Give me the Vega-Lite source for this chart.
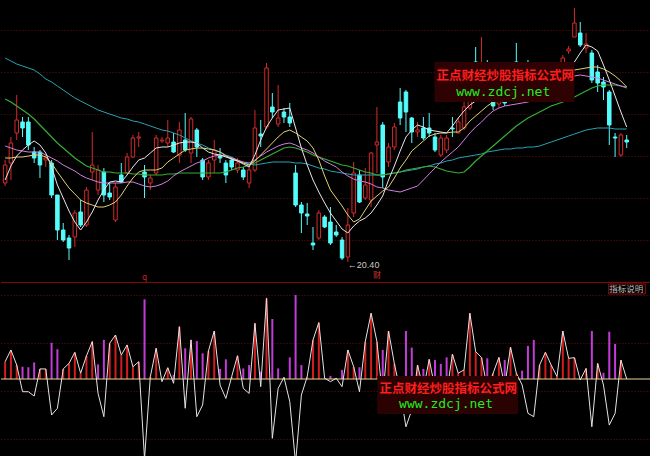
{
  "$schema": "https://vega.github.io/schema/vega-lite/v6.json",
  "background": "#000000",
  "padding": 0,
  "spacing": 0,
  "resolve": {"scale": {"color": "independent", "fill": "independent", "stroke": "independent", "x": "independent", "y": "independent"}},
  "config": {
    "view": {"stroke": null},
    "axis": {"domain": false, "ticks": false, "labels": false, "title": null, "grid": true, "gridColor": "#6a0c0c", "gridDash": [1, 2], "gridWidth": 1}
  },
  "datasets": {
    "k": [
      {"i":-1,"d":"u","o":24.35,"h":25.5,"l":24.2,"c":25.25,"m5":24.5,"m10":25.6,"m20":26.2,"m30":28.55,"m60":30.6},
      {"i":0,"d":"u","o":25.35,"h":26.65,"l":24.5,"c":26.35,"m5":25.2,"m10":25.6,"m20":26.1,"m30":28.4,"m60":30.45},
      {"i":1,"d":"u","o":26.85,"h":28.75,"l":26.5,"c":27.5,"m5":25.7,"m10":25.65,"m20":26.0,"m30":28.2,"m60":30.3},
      {"i":2,"d":"d","o":27.4,"h":27.65,"l":26.65,"c":27.1,"m5":26.0,"m10":25.65,"m20":25.95,"m30":28.0,"m60":30.2},
      {"i":3,"d":"d","o":27.4,"h":27.65,"l":26.0,"c":26.25,"m5":26.25,"m10":25.7,"m20":25.9,"m30":27.8,"m60":30.1},
      {"i":4,"d":"d","o":25.9,"h":26.15,"l":25.35,"c":25.6,"m5":26.45,"m10":25.75,"m20":25.9,"m30":27.55,"m60":30.0},
      {"i":5,"d":"d","o":25.9,"h":26.0,"l":24.6,"c":25.25,"m5":26.25,"m10":25.75,"m20":25.9,"m30":27.25,"m60":29.8},
      {"i":6,"d":"u","o":25.5,"h":25.75,"l":25.15,"c":25.6,"m5":25.85,"m10":25.65,"m20":25.75,"m30":26.95,"m60":29.55},
      {"i":7,"d":"d","o":25.35,"h":25.5,"l":23.6,"c":23.75,"m5":25.15,"m10":25.35,"m20":25.6,"m30":26.65,"m60":29.4},
      {"i":8,"d":"d","o":23.75,"h":23.75,"l":21.5,"c":22.0,"m5":24.25,"m10":24.9,"m20":25.45,"m30":26.35,"m60":29.2},
      {"i":9,"d":"d","o":22.0,"h":22.35,"l":21.4,"c":21.5,"m5":23.6,"m10":24.5,"m20":25.25,"m30":26.1,"m60":29.0},
      {"i":10,"d":"d","o":21.6,"h":21.75,"l":20.5,"c":21.1,"m5":22.95,"m10":24.1,"m20":25.1,"m30":25.85,"m60":28.8},
      {"i":11,"d":"u","o":21.65,"h":23.0,"l":21.15,"c":22.85,"m5":22.4,"m10":23.8,"m20":24.95,"m30":25.6,"m60":28.6},
      {"i":12,"d":"d","o":22.9,"h":23.5,"l":22.15,"c":22.25,"m5":22.0,"m10":23.5,"m20":24.75,"m30":25.4,"m60":28.45},
      {"i":13,"d":"u","o":22.25,"h":24.15,"l":22.15,"c":24.0,"m5":22.4,"m10":23.35,"m20":24.6,"m30":25.2,"m60":28.3},
      {"i":14,"d":"u","o":24.9,"h":26.9,"l":24.5,"c":25.25,"m5":22.9,"m10":23.25,"m20":24.5,"m30":25.1,"m60":28.15},
      {"i":15,"d":"u","o":24.0,"h":25.25,"l":23.75,"c":25.0,"m5":23.5,"m10":23.15,"m20":24.4,"m30":25.0,"m60":28.0},
      {"i":16,"d":"d","o":24.9,"h":25.1,"l":23.4,"c":23.75,"m5":24.0,"m10":23.15,"m20":24.35,"m30":24.9,"m60":27.9},
      {"i":17,"d":"d","o":23.85,"h":24.35,"l":23.5,"c":23.65,"m5":24.4,"m10":23.25,"m20":24.35,"m30":24.9,"m60":27.8},
      {"i":18,"d":"u","o":22.5,"h":24.35,"l":22.4,"c":24.15,"m5":24.45,"m10":23.4,"m20":24.35,"m30":24.85,"m60":27.7},
      {"i":19,"d":"d","o":24.75,"h":25.35,"l":24.35,"c":24.4,"m5":24.4,"m10":23.75,"m20":24.35,"m30":24.85,"m60":27.6},
      {"i":20,"d":"u","o":24.85,"h":25.85,"l":24.75,"c":25.65,"m5":24.75,"m10":24.2,"m20":24.4,"m30":24.85,"m60":27.55},
      {"i":21,"d":"u","o":25.65,"h":26.75,"l":25.6,"c":26.6,"m5":25.15,"m10":24.6,"m20":24.4,"m30":24.8,"m60":27.45},
      {"i":22,"d":"u","o":26.6,"h":26.9,"l":26.15,"c":26.65,"m5":25.5,"m10":24.9,"m20":24.3,"m30":24.8,"m60":27.4},
      {"i":23,"d":"d","o":24.9,"h":25.25,"l":23.6,"c":24.65,"m5":25.6,"m10":25.0,"m20":24.2,"m30":24.75,"m60":27.3},
      {"i":24,"d":"u","o":24.35,"h":24.75,"l":24.0,"c":24.6,"m5":25.85,"m10":25.0,"m20":24.15,"m30":24.75,"m60":27.2},
      {"i":25,"d":"u","o":24.85,"h":26.75,"l":24.75,"c":26.6,"m5":26.1,"m10":25.0,"m20":24.2,"m30":24.75,"m60":27.1},
      {"i":26,"d":"u","o":26.45,"h":26.65,"l":26.35,"c":26.5,"m5":26.15,"m10":25.1,"m20":24.3,"m30":24.75,"m60":27.0},
      {"i":27,"d":"u","o":26.35,"h":27.5,"l":26.15,"c":26.6,"m5":26.15,"m10":25.4,"m20":24.45,"m30":24.8,"m60":26.95},
      {"i":28,"d":"d","o":26.4,"h":26.85,"l":25.85,"c":25.9,"m5":26.25,"m10":25.6,"m20":24.7,"m30":24.8,"m60":26.85},
      {"i":29,"d":"u","o":25.75,"h":27.4,"l":25.35,"c":27.0,"m5":26.35,"m10":25.8,"m20":24.9,"m30":24.85,"m60":26.75},
      {"i":30,"d":"d","o":26.5,"h":27.85,"l":25.9,"c":26.0,"m5":26.4,"m10":26.0,"m20":25.05,"m30":24.85,"m60":26.6},
      {"i":31,"d":"u","o":25.85,"h":27.65,"l":25.35,"c":27.55,"m5":26.4,"m10":26.05,"m20":25.2,"m30":24.85,"m60":26.45},
      {"i":32,"d":"d","o":27.0,"h":27.1,"l":25.65,"c":26.15,"m5":26.35,"m10":26.1,"m20":25.35,"m30":24.85,"m60":26.35},
      {"i":33,"d":"d","o":25.5,"h":25.6,"l":24.5,"c":24.65,"m5":26.1,"m10":26.1,"m20":25.45,"m30":24.85,"m60":26.25},
      {"i":34,"d":"u","o":24.65,"h":25.5,"l":24.5,"c":25.35,"m5":25.9,"m10":26.05,"m20":25.6,"m30":24.85,"m60":26.1},
      {"i":35,"d":"u","o":25.5,"h":26.5,"l":24.85,"c":26.0,"m5":25.8,"m10":26.0,"m20":25.7,"m30":24.85,"m60":26.0},
      {"i":36,"d":"d","o":25.7,"h":26.1,"l":25.35,"c":25.6,"m5":25.75,"m10":25.9,"m20":25.75,"m30":24.85,"m60":25.9},
      {"i":37,"d":"d","o":25.35,"h":25.5,"l":24.35,"c":24.75,"m5":25.65,"m10":25.7,"m20":25.7,"m30":24.9,"m60":25.75},
      {"i":38,"d":"d","o":25.5,"h":25.65,"l":25.0,"c":25.15,"m5":25.55,"m10":25.55,"m20":25.6,"m30":25.0,"m60":25.65},
      {"i":39,"d":"u","o":25.0,"h":25.6,"l":24.85,"c":25.35,"m5":25.45,"m10":25.45,"m20":25.5,"m30":25.1,"m60":25.5},
      {"i":40,"d":"d","o":25.0,"h":25.15,"l":24.5,"c":24.65,"m5":25.3,"m10":25.35,"m20":25.4,"m30":25.15,"m60":25.35},
      {"i":41,"d":"u","o":24.35,"h":25.15,"l":24.1,"c":25.0,"m5":25.15,"m10":25.25,"m20":25.35,"m30":25.25,"m60":25.3},
      {"i":42,"d":"u","o":25.0,"h":28.0,"l":24.9,"c":27.1,"m5":25.75,"m10":25.45,"m20":25.5,"m30":25.35,"m60":25.25},
      {"i":43,"d":"d","o":26.8,"h":27.5,"l":26.15,"c":26.7,"m5":26.5,"m10":25.75,"m20":25.7,"m30":25.5,"m60":25.3},
      {"i":44,"d":"u","o":27.15,"h":30.35,"l":27.05,"c":30.1,"m5":27.15,"m10":26.05,"m20":25.9,"m30":25.65,"m60":25.35},
      {"i":45,"d":"d","o":28.15,"h":28.85,"l":27.6,"c":27.9,"m5":27.6,"m10":26.35,"m20":26.05,"m30":25.8,"m60":25.4},
      {"i":46,"d":"u","o":27.3,"h":29.25,"l":27.15,"c":27.6,"m5":28.0,"m10":26.65,"m20":26.2,"m30":25.95,"m60":25.4},
      {"i":47,"d":"d","o":27.9,"h":28.1,"l":27.35,"c":27.65,"m5":28.05,"m10":26.9,"m20":26.3,"m30":26.1,"m60":25.4},
      {"i":48,"d":"d","o":27.65,"h":28.35,"l":27.15,"c":27.35,"m5":28.1,"m10":27.0,"m20":26.35,"m30":26.15,"m60":25.4},
      {"i":49,"d":"d","o":24.85,"h":25.25,"l":23.15,"c":23.25,"m5":27.1,"m10":26.85,"m20":26.25,"m30":26.1,"m60":25.35},
      {"i":50,"d":"d","o":23.25,"h":23.4,"l":21.85,"c":22.85,"m5":26.1,"m10":26.65,"m20":26.1,"m30":26.0,"m60":25.35},
      {"i":51,"d":"d","o":22.8,"h":23.35,"l":22.25,"c":22.7,"m5":25.25,"m10":26.45,"m20":26.0,"m30":25.9,"m60":25.3},
      {"i":52,"d":"d","o":21.35,"h":22.15,"l":21.0,"c":21.25,"m5":24.5,"m10":26.1,"m20":25.85,"m30":25.75,"m60":25.2},
      {"i":53,"d":"u","o":21.6,"h":23.0,"l":21.5,"c":22.85,"m5":23.9,"m10":25.5,"m20":25.65,"m30":25.65,"m60":25.1},
      {"i":54,"d":"d","o":22.65,"h":22.75,"l":22.1,"c":22.15,"m5":23.35,"m10":24.7,"m20":25.45,"m30":25.55,"m60":25.05},
      {"i":55,"d":"d","o":22.4,"h":23.15,"l":21.25,"c":21.35,"m5":22.85,"m10":24.0,"m20":25.3,"m30":25.45,"m60":24.95},
      {"i":56,"d":"d","o":21.9,"h":22.25,"l":21.65,"c":21.75,"m5":22.45,"m10":23.6,"m20":25.15,"m30":25.35,"m60":24.9},
      {"i":57,"d":"d","o":21.5,"h":21.65,"l":20.5,"c":20.6,"m5":22.05,"m10":23.2,"m20":24.9,"m30":25.25,"m60":24.85},
      {"i":58,"d":"u","o":20.65,"h":23.1,"l":20.4,"c":22.25,"m5":21.85,"m10":22.75,"m20":24.7,"m30":25.2,"m60":24.8},
      {"i":59,"d":"u","o":22.85,"h":25.4,"l":22.65,"c":24.85,"m5":22.2,"m10":22.4,"m20":24.55,"m30":25.1,"m60":24.75},
      {"i":60,"d":"d","o":24.75,"h":25.0,"l":23.35,"c":23.4,"m5":22.45,"m10":22.55,"m20":24.45,"m30":25.0,"m60":24.75},
      {"i":61,"d":"u","o":23.6,"h":25.1,"l":23.5,"c":24.25,"m5":22.6,"m10":23.0,"m20":24.4,"m30":24.9,"m60":24.75},
      {"i":62,"d":"u","o":23.5,"h":25.9,"l":23.15,"c":25.85,"m5":22.85,"m10":23.45,"m20":24.3,"m30":24.85,"m60":24.75},
      {"i":63,"d":"u","o":26.25,"h":28.15,"l":24.85,"c":26.4,"m5":23.25,"m10":23.7,"m20":24.15,"m30":24.75,"m60":24.75},
      {"i":64,"d":"d","o":27.25,"h":27.4,"l":24.1,"c":24.65,"m5":23.7,"m10":23.95,"m20":24.1,"m30":24.75,"m60":24.75},
      {"i":65,"d":"u","o":25.4,"h":26.35,"l":25.15,"c":26.15,"m5":24.5,"m10":24.15,"m20":24.0,"m30":24.8,"m60":24.8},
      {"i":66,"d":"u","o":26.15,"h":27.35,"l":26.0,"c":27.15,"m5":25.2,"m10":24.6,"m20":23.95,"m30":24.85,"m60":24.85},
      {"i":67,"d":"d","o":28.4,"h":29.1,"l":27.25,"c":27.6,"m5":25.95,"m10":25.1,"m20":23.9,"m30":24.9,"m60":24.9},
      {"i":68,"d":"d","o":28.9,"h":29.0,"l":26.9,"c":27.9,"m5":26.65,"m10":25.5,"m20":24.0,"m30":25.0,"m60":24.95},
      {"i":69,"d":"d","o":27.6,"h":27.65,"l":26.35,"c":26.9,"m5":27.0,"m10":25.95,"m20":24.1,"m30":25.05,"m60":25.0},
      {"i":70,"d":"u","o":26.9,"h":27.4,"l":26.65,"c":27.0,"m5":27.25,"m10":26.2,"m20":24.2,"m30":25.1,"m60":25.05},
      {"i":71,"d":"d","o":27.1,"h":27.65,"l":26.5,"c":26.6,"m5":27.15,"m10":26.45,"m20":24.5,"m30":25.15,"m60":25.15},
      {"i":72,"d":"d","o":27.1,"h":27.85,"l":26.65,"c":26.85,"m5":27.0,"m10":26.7,"m20":24.8,"m30":25.2,"m60":25.2},
      {"i":73,"d":"d","o":26.65,"h":26.85,"l":25.9,"c":26.0,"m5":26.95,"m10":26.8,"m20":25.1,"m30":25.15,"m60":25.3},
      {"i":74,"d":"u","o":25.75,"h":26.75,"l":25.65,"c":26.6,"m5":26.9,"m10":26.85,"m20":25.4,"m30":25.05,"m60":25.35},
      {"i":75,"d":"u","o":26.0,"h":26.75,"l":25.85,"c":26.6,"m5":26.85,"m10":26.85,"m20":25.65,"m30":24.95,"m60":25.45},
      {"i":76,"d":"d","o":27.1,"h":27.65,"l":26.65,"c":27.05,"m5":27.2,"m10":26.9,"m20":25.9,"m30":24.9,"m60":25.5},
      {"i":77,"d":"u","o":26.85,"h":27.6,"l":26.85,"c":27.4,"m5":27.6,"m10":26.9,"m20":26.15,"m30":24.85,"m60":25.6},
      {"i":78,"d":"u","o":27.1,"h":28.65,"l":27.0,"c":28.15,"m5":27.95,"m10":27.1,"m20":26.5,"m30":24.9,"m60":25.65},
      {"i":79,"d":"u","o":28.1,"h":29.25,"l":28.0,"c":28.65,"m5":28.25,"m10":27.45,"m20":26.85,"m30":25.15,"m60":25.7},
      {"i":80,"d":"d","o":30.4,"h":31.15,"l":29.4,"c":29.6,"m5":28.45,"m10":27.7,"m20":27.15,"m30":25.45,"m60":25.75},
      {"i":81,"d":"u","o":29.5,"h":31.65,"l":29.3,"c":30.3,"m5":28.5,"m10":27.95,"m20":27.4,"m30":25.7,"m60":25.8},
      {"i":82,"d":"d","o":30.2,"h":30.5,"l":29.25,"c":29.5,"m5":28.6,"m10":28.2,"m20":27.7,"m30":25.95,"m60":25.9},
      {"i":83,"d":"d","o":29.5,"h":29.9,"l":28.0,"c":28.2,"m5":28.65,"m10":28.4,"m20":27.95,"m30":26.2,"m60":25.95},
      {"i":84,"d":"u","o":28.3,"h":29.25,"l":28.1,"c":29.1,"m5":28.9,"m10":28.55,"m20":28.1,"m30":26.45,"m60":26.0},
      {"i":85,"d":"d","o":29.1,"h":29.5,"l":28.2,"c":28.35,"m5":29.1,"m10":28.7,"m20":28.2,"m30":26.7,"m60":26.05},
      {"i":86,"d":"u","o":28.5,"h":29.75,"l":28.4,"c":29.5,"m5":29.25,"m10":28.8,"m20":28.25,"m30":26.95,"m60":26.05},
      {"i":87,"d":"d","o":30.4,"h":31.35,"l":29.3,"c":29.5,"m5":29.4,"m10":28.9,"m20":28.3,"m30":27.2,"m60":26.1},
      {"i":88,"d":"u","o":29.25,"h":30.25,"l":29.1,"c":30.0,"m5":29.5,"m10":29.0,"m20":28.35,"m30":27.4,"m60":26.1},
      {"i":89,"d":"d","o":30.25,"h":30.5,"l":29.4,"c":29.6,"m5":29.5,"m10":29.1,"m20":28.4,"m30":27.6,"m60":26.15},
      {"i":90,"d":"u","o":28.6,"h":29.6,"l":28.45,"c":29.4,"m5":29.4,"m10":29.2,"m20":28.5,"m30":27.75,"m60":26.15},
      {"i":91,"d":"u","o":28.75,"h":29.5,"l":28.6,"c":29.25,"m5":29.25,"m10":29.3,"m20":28.65,"m30":27.9,"m60":26.2},
      {"i":92,"d":"d","o":29.4,"h":29.6,"l":28.65,"c":28.75,"m5":29.3,"m10":29.4,"m20":28.8,"m30":28.05,"m60":26.3},
      {"i":93,"d":"u","o":28.65,"h":29.75,"l":28.55,"c":29.6,"m5":29.5,"m10":29.55,"m20":28.95,"m30":28.2,"m60":26.4},
      {"i":94,"d":"u","o":29.5,"h":30.3,"l":29.4,"c":30.1,"m5":29.75,"m10":29.7,"m20":29.15,"m30":28.3,"m60":26.5},
      {"i":95,"d":"u","o":30.0,"h":30.75,"l":29.75,"c":30.6,"m5":30.0,"m10":29.85,"m20":29.35,"m30":28.4,"m60":26.6},
      {"i":96,"d":"u","o":30.95,"h":31.2,"l":30.8,"c":31.05,"m5":30.2,"m10":29.95,"m20":29.55,"m30":28.5,"m60":26.7},
      {"i":97,"d":"u","o":31.65,"h":33.1,"l":31.65,"c":32.35,"m5":30.4,"m10":30.0,"m20":29.7,"m30":28.65,"m60":26.8},
      {"i":98,"d":"d","o":31.85,"h":32.4,"l":31.15,"c":31.25,"m5":30.85,"m10":30.05,"m20":29.75,"m30":28.8,"m60":26.9},
      {"i":99,"d":"u","o":31.1,"h":31.85,"l":30.85,"c":31.3,"m5":31.25,"m10":30.1,"m20":29.7,"m30":28.95,"m60":27.0},
      {"i":100,"d":"d","o":30.85,"h":31.0,"l":29.35,"c":29.5,"m5":31.15,"m10":30.15,"m20":29.65,"m30":29.1,"m60":27.05},
      {"i":101,"d":"d","o":29.9,"h":30.25,"l":28.9,"c":29.35,"m5":30.95,"m10":30.15,"m20":29.6,"m30":29.2,"m60":27.1},
      {"i":102,"d":"d","o":29.4,"h":29.65,"l":28.5,"c":29.15,"m5":30.25,"m10":30.05,"m20":29.5,"m30":29.25,"m60":27.1},
      {"i":103,"d":"d","o":28.9,"h":29.0,"l":26.25,"c":27.25,"m5":29.5,"m10":29.9,"m20":29.4,"m30":29.25,"m60":27.1},
      {"i":104,"d":"d","o":26.65,"h":26.85,"l":25.65,"c":26.6,"m5":28.7,"m10":29.7,"m20":29.3,"m30":29.25,"m60":27.05},
      {"i":105,"d":"u","o":25.75,"h":26.85,"l":25.65,"c":26.75,"m5":27.9,"m10":29.45,"m20":29.2,"m30":29.2,"m60":27.05},
      {"i":106,"d":"d","o":26.5,"h":26.75,"l":26.1,"c":26.4,"m5":27.15,"m10":29.15,"m20":29.1,"m30":29.15,"m60":27.05}
    ],
    "osc": [
      {"i":-1,"a":7.2,"b":7.2,"k":"r"},{"i":0,"a":12.1,"b":12.1,"k":"r"},{"i":1,"a":5.8,"b":5.8,"k":"r"},
      {"i":2,"a":-5.3,"b":5.1,"k":"m"},{"i":3,"a":-5.3,"b":4.9,"k":"m"},{"i":4,"a":-7.1,"b":6.9,"k":"m"},
      {"i":5,"a":4.2,"b":4.2,"k":"r"},{"i":6,"a":4.2,"b":4.2,"k":"r"},{"i":7,"a":-15.0,"b":15.1,"k":"m"},
      {"i":8,"a":-12.2,"b":12.4,"k":"m"},{"i":9,"a":4.2,"b":4.2,"k":"r"},{"i":10,"a":6.5,"b":6.5,"k":"r"},
      {"i":11,"a":11.1,"b":11.1,"k":"r"},{"i":12,"a":2.4,"b":2.4,"k":"r"},{"i":13,"a":9.6,"b":9.6,"k":"r"},
      {"i":14,"a":15.6,"b":15.6,"k":"r"},{"i":15,"a":-6.0,"b":6.1,"k":"m"},{"i":16,"a":-15.7,"b":16.3,"k":"m"},
      {"i":17,"a":14.9,"b":14.9,"k":"r"},{"i":18,"a":18.3,"b":18.3,"k":"r"},{"i":19,"a":10.0,"b":10.0,"k":"r"},
      {"i":20,"a":14.2,"b":14.2,"k":"r"},{"i":21,"a":5.1,"b":5.1,"k":"r"},{"i":22,"a":7.2,"b":7.2,"k":"r"},
      {"i":23,"a":-33.2,"b":33.2,"k":"m"},{"i":24,"a":1.0,"b":1.0,"k":"r"},{"i":25,"a":12.8,"b":12.8,"k":"r"},
      {"i":26,"a":-1.1,"b":0,"k":"m"},{"i":27,"a":4.7,"b":4.7,"k":"r"},{"i":28,"a":-1.8,"b":1.7,"k":"m"},
      {"i":29,"a":21.8,"b":21.8,"k":"r"},{"i":30,"a":-12.2,"b":12.8,"k":"m"},{"i":31,"a":16.3,"b":16.3,"k":"r"},
      {"i":32,"a":-15.7,"b":15.8,"k":"m"},{"i":33,"a":-10.8,"b":10.7,"k":"m"},{"i":34,"a":11.7,"b":11.7,"k":"r"},
      {"i":35,"a":20.0,"b":20.0,"k":"r"},{"i":36,"a":-2.5,"b":4.2,"k":"m"},{"i":37,"a":-8.1,"b":8.2,"k":"m"},
      {"i":38,"a":1.0,"b":1.0,"k":"r"},{"i":39,"a":9.7,"b":9.7,"k":"r"},{"i":40,"a":-3.9,"b":4.4,"k":"m"},
      {"i":41,"a":-6.0,"b":5.8,"k":"m"},{"i":42,"a":23.2,"b":23.2,"k":"r"},{"i":43,"a":-3.2,"b":3.1,"k":"m"},
      {"i":44,"a":33.6,"b":33.6,"k":"r"},{"i":45,"a":-24.7,"b":25.0,"k":"m"},{"i":46,"a":-3.9,"b":4.4,"k":"m"},
      {"i":47,"a":0.7,"b":0.7,"k":"r"},{"i":48,"a":-9.4,"b":9.0,"k":"m"},{"i":49,"a":-35.0,"b":35.0,"k":"m"},
      {"i":50,"a":-6.7,"b":5.8,"k":"m"},{"i":51,"a":1.0,"b":1.0,"k":"r"},{"i":52,"a":16.3,"b":16.3,"k":"r"},
      {"i":53,"a":23.5,"b":23.5,"k":"r"},{"i":54,"a":0.3,"b":0.3,"k":"r"},{"i":55,"a":-1.1,"b":1.3,"k":"m"},
      {"i":56,"a":0.3,"b":0.3,"k":"r"},{"i":57,"a":-3.2,"b":3.8,"k":"m"},{"i":58,"a":12.1,"b":12.1,"k":"r"},
      {"i":59,"a":5.1,"b":5.1,"k":"r"},{"i":60,"a":-5.3,"b":4.9,"k":"m"},{"i":61,"a":15.6,"b":15.6,"k":"r"},
      {"i":62,"a":27.4,"b":27.4,"k":"r"},{"i":63,"a":15.6,"b":15.6,"k":"r"},{"i":64,"a":-8.0,"b":12.1,"k":"m"},
      {"i":65,"a":20.0,"b":20.0,"k":"r"},{"i":66,"a":6.5,"b":6.5,"k":"r"},{"i":67,"a":-5.0,"b":0,"k":"m"},
      {"i":68,"a":-19.9,"b":20.0,"k":"m"},{"i":69,"a":-12.9,"b":13.1,"k":"m"},{"i":70,"a":5.8,"b":5.8,"k":"r"},
      {"i":71,"a":-4.5,"b":4.2,"k":"m"},{"i":72,"a":8.2,"b":8.2,"k":"r"},{"i":73,"a":-4.0,"b":7.9,"k":"m"},
      {"i":74,"a":-5.0,"b":6.3,"k":"m"},{"i":75,"a":-6.0,"b":9.0,"k":"m"},{"i":76,"a":10.3,"b":10.3,"k":"r"},
      {"i":77,"a":2.4,"b":2.4,"k":"r"},{"i":78,"a":3.8,"b":3.8,"k":"r"},{"i":79,"a":27.4,"b":27.4,"k":"r"},
      {"i":80,"a":11.4,"b":11.4,"k":"r"},{"i":81,"a":9.0,"b":9.0,"k":"r"},{"i":82,"a":-4.0,"b":8.6,"k":"m"},
      {"i":83,"a":2.4,"b":2.4,"k":"r"},{"i":84,"a":9.0,"b":9.0,"k":"r"},{"i":85,"a":-3.0,"b":7.9,"k":"m"},
      {"i":86,"a":13.2,"b":13.2,"k":"r"},{"i":87,"a":2.4,"b":2.4,"k":"r"},{"i":88,"a":-2.5,"b":3.5,"k":"m"},
      {"i":89,"a":-14.3,"b":13.8,"k":"m"},{"i":90,"a":-15.7,"b":16.3,"k":"m"},{"i":91,"a":5.8,"b":5.8,"k":"r"},
      {"i":92,"a":11.1,"b":11.1,"k":"r"},{"i":93,"a":5.8,"b":5.8,"k":"r"},{"i":94,"a":1.0,"b":1.0,"k":"r"},
      {"i":95,"a":20.0,"b":20.0,"k":"r"},{"i":96,"a":8.6,"b":8.6,"k":"r"},{"i":97,"a":8.9,"b":8.9,"k":"r"},
      {"i":98,"a":-0.4,"b":0,"k":"m"},{"i":99,"a":4.4,"b":4.4,"k":"r"},{"i":100,"a":-19.9,"b":20.0,"k":"m"},
      {"i":101,"a":6.5,"b":6.5,"k":"r"},{"i":102,"a":-2.5,"b":2.6,"k":"m"},{"i":103,"a":-19.2,"b":19.7,"k":"m"},
      {"i":104,"a":-14.3,"b":14.6,"k":"m"},{"i":105,"a":7.9,"b":7.9,"k":"r"},{"i":106,"a":0,"b":0,"k":"r"}
    ]
  },
  "vconcat": [
    {
      "width": 650,
      "height": 283,
      "layer": [
        {
          "data": {"name": "k"},
          "mark": {"type": "rule", "strokeWidth": 1, "clip": true},
          "encoding": {
            "x": {"field": "i", "type": "quantitative", "scale": {"domain": [-0.847, 109.32], "nice": false, "zero": false}, "axis": null},
            "y": {"field": "l", "type": "quantitative", "scale": {"domain": [19.35, 33.5], "nice": false, "zero": false}, "axis": {"values": [32.0, 29.9, 27.8, 25.7, 23.6, 21.5]}},
            "y2": {"field": "h"},
            "color": {"field": "d", "type": "nominal", "scale": {"domain": ["u", "d"], "range": ["#d42a2a", "#54fcfc"]}, "legend": null}
          }
        },
        {
          "data": {"name": "k"},
          "mark": {"type": "bar", "orient": "vertical", "width": 3.5, "strokeWidth": 1, "clip": true},
          "encoding": {
            "x": {"field": "i", "type": "quantitative", "scale": {"domain": [-0.847, 109.32], "nice": false, "zero": false}, "axis": null},
            "y": {"field": "o", "type": "quantitative", "scale": {"domain": [19.35, 33.5], "nice": false, "zero": false}},
            "y2": {"field": "c"},
            "stroke": {"field": "d", "type": "nominal", "scale": {"domain": ["u", "d"], "range": ["#d42a2a", "#54fcfc"]}, "legend": null},
            "fill": {"field": "d", "type": "nominal", "scale": {"domain": ["u", "d"], "range": ["#000000", "#54fcfc"]}, "legend": null}
          }
        },
        {
          "data": {"name": "k"},
          "mark": {"type": "line", "color": "#2aa3b4", "strokeWidth": 1, "clip": true},
          "encoding": {
            "x": {"field": "i", "type": "quantitative", "scale": {"domain": [-0.847, 109.32], "nice": false, "zero": false}, "axis": null},
            "y": {"field": "m60", "type": "quantitative", "scale": {"domain": [19.35, 33.5], "nice": false, "zero": false}}
          }
        },
        {
          "data": {"name": "k"},
          "mark": {"type": "line", "color": "#36ad36", "strokeWidth": 1.2, "clip": true},
          "encoding": {
            "x": {"field": "i", "type": "quantitative", "scale": {"domain": [-0.847, 109.32], "nice": false, "zero": false}, "axis": null},
            "y": {"field": "m30", "type": "quantitative", "scale": {"domain": [19.35, 33.5], "nice": false, "zero": false}}
          }
        },
        {
          "data": {"name": "k"},
          "mark": {"type": "line", "color": "#d67ee0", "strokeWidth": 1, "clip": true},
          "encoding": {
            "x": {"field": "i", "type": "quantitative", "scale": {"domain": [-0.847, 109.32], "nice": false, "zero": false}, "axis": null},
            "y": {"field": "m20", "type": "quantitative", "scale": {"domain": [19.35, 33.5], "nice": false, "zero": false}}
          }
        },
        {
          "data": {"name": "k"},
          "mark": {"type": "line", "color": "#e2d274", "strokeWidth": 1, "clip": true},
          "encoding": {
            "x": {"field": "i", "type": "quantitative", "scale": {"domain": [-0.847, 109.32], "nice": false, "zero": false}, "axis": null},
            "y": {"field": "m10", "type": "quantitative", "scale": {"domain": [19.35, 33.5], "nice": false, "zero": false}}
          }
        },
        {
          "data": {"name": "k"},
          "mark": {"type": "line", "color": "#e8e8e8", "strokeWidth": 1, "clip": true},
          "encoding": {
            "x": {"field": "i", "type": "quantitative", "scale": {"domain": [-0.847, 109.32], "nice": false, "zero": false}, "axis": null},
            "y": {"field": "m5", "type": "quantitative", "scale": {"domain": [19.35, 33.5], "nice": false, "zero": false}}
          }
        },
        {
          "data": {"values": [{}]},
          "mark": {"type": "rule", "color": "#8a0c0c", "strokeWidth": 1},
          "encoding": {"y": {"datum": 19.38, "type": "quantitative", "scale": {"domain": [19.35, 33.5], "nice": false, "zero": false}}}
        },
        {
          "data": {"values": [{}]},
          "mark": {"type": "text", "text": "←20.40", "align": "left", "baseline": "middle", "dx": 0, "dy": 3, "font": "Liberation Sans", "fontSize": 9, "color": "#c8c8c8"},
          "encoding": {
            "x": {"datum": 58, "type": "quantitative", "scale": {"domain": [-0.847, 109.32], "nice": false, "zero": false}},
            "y": {"datum": 20.4, "type": "quantitative", "scale": {"domain": [19.35, 33.5], "nice": false, "zero": false}}
          }
        },
        {
          "data": {"values": [{}]},
          "mark": {"type": "text", "text": "q", "align": "center", "baseline": "middle", "font": "DejaVu Sans", "fontSize": 8, "color": "#c42020"},
          "encoding": {
            "x": {"datum": 23, "type": "quantitative", "scale": {"domain": [-0.847, 109.32], "nice": false, "zero": false}},
            "y": {"datum": 19.6, "type": "quantitative", "scale": {"domain": [19.35, 33.5], "nice": false, "zero": false}}
          }
        },
        {
          "data": {"values": [{}]},
          "mark": {"type": "text", "text": "财", "align": "center", "baseline": "middle", "font": "Noto Sans CJK SC", "fontSize": 8, "color": "#d23434"},
          "encoding": {
            "x": {"datum": 63, "type": "quantitative", "scale": {"domain": [-0.847, 109.32], "nice": false, "zero": false}},
            "y": {"datum": 19.7, "type": "quantitative", "scale": {"domain": [19.35, 33.5], "nice": false, "zero": false}}
          }
        },
        {
          "data": {"values": [{}]},
          "mark": {"type": "rect", "fill": "#2e0202"},
          "encoding": {
            "x": {"datum": 72.9, "type": "quantitative", "scale": {"domain": [-0.847, 109.32], "nice": false, "zero": false}},
            "x2": {"datum": 97.0},
            "y": {"datum": 30.4, "type": "quantitative", "scale": {"domain": [19.35, 33.5], "nice": false, "zero": false}},
            "y2": {"datum": 28.4}
          }
        },
        {
          "data": {"values": [{}]},
          "mark": {"type": "text", "text": "正点财经炒股指标公式网", "align": "center", "baseline": "middle", "font": "Noto Sans CJK SC", "fontWeight": "bold", "fontSize": 12.5, "color": "#ff1e1e"},
          "encoding": {
            "x": {"datum": 85.1, "type": "quantitative", "scale": {"domain": [-0.847, 109.32], "nice": false, "zero": false}},
            "y": {"datum": 29.7, "type": "quantitative", "scale": {"domain": [19.35, 33.5], "nice": false, "zero": false}}
          }
        },
        {
          "data": {"values": [{}]},
          "mark": {"type": "text", "text": "www.zdcj.net", "align": "center", "baseline": "middle", "font": "DejaVu Sans Mono", "fontSize": 13, "color": "#22ee22"},
          "encoding": {
            "x": {"datum": 84.75, "type": "quantitative", "scale": {"domain": [-0.847, 109.32], "nice": false, "zero": false}},
            "y": {"datum": 28.9, "type": "quantitative", "scale": {"domain": [19.35, 33.5], "nice": false, "zero": false}}
          }
        }
      ]
    },
    {
      "width": 650,
      "height": 173,
      "layer": [
        {
          "data": {"name": "osc"},
          "mark": {"type": "bar", "orient": "vertical", "width": 2, "clip": true},
          "encoding": {
            "x": {"field": "i", "type": "quantitative", "scale": {"domain": [-0.847, 109.32], "nice": false, "zero": false}, "axis": null},
            "y": {"field": "b", "type": "quantitative", "scale": {"domain": [-32.08, 40], "nice": false, "zero": false}, "axis": {"values": [35, 25, 15, 5, -5, -15, -25]}},
            "y2": {"datum": 0},
            "color": {"field": "k", "type": "nominal", "scale": {"domain": ["r", "m"], "range": ["#d41e1e", "#c43cd8"]}, "legend": null}
          }
        },
        {
          "data": {"values": [{}]},
          "mark": {"type": "rule", "color": "#e8d890", "strokeWidth": 1},
          "encoding": {"y": {"datum": 0, "type": "quantitative", "scale": {"domain": [-32.08, 40], "nice": false, "zero": false}}}
        },
        {
          "data": {"name": "osc"},
          "mark": {"type": "line", "color": "#e4e4e4", "strokeWidth": 1, "clip": true},
          "encoding": {
            "x": {"field": "i", "type": "quantitative", "scale": {"domain": [-0.847, 109.32], "nice": false, "zero": false}, "axis": null},
            "y": {"field": "a", "type": "quantitative", "scale": {"domain": [-32.08, 40], "nice": false, "zero": false}}
          }
        },
        {
          "data": {"values": [{}]},
          "mark": {"type": "rect", "fill": "#2a0202"},
          "encoding": {
            "x": {"datum": 63.05, "type": "quantitative", "scale": {"domain": [-0.847, 109.32], "nice": false, "zero": false}},
            "x2": {"datum": 87.3},
            "y": {"datum": 1.25, "type": "quantitative", "scale": {"domain": [-32.08, 40], "nice": false, "zero": false}},
            "y2": {"datum": -14.6}
          }
        },
        {
          "data": {"values": [{}]},
          "mark": {"type": "text", "text": "正点财经炒股指标公式网", "align": "center", "baseline": "middle", "font": "Noto Sans CJK SC", "fontWeight": "bold", "fontSize": 12.5, "color": "#ff1e1e"},
          "encoding": {
            "x": {"datum": 75.3, "type": "quantitative", "scale": {"domain": [-0.847, 109.32], "nice": false, "zero": false}},
            "y": {"datum": -4.2, "type": "quantitative", "scale": {"domain": [-32.08, 40], "nice": false, "zero": false}}
          }
        },
        {
          "data": {"values": [{}]},
          "mark": {"type": "text", "text": "www.zdcj.net", "align": "center", "baseline": "middle", "font": "DejaVu Sans Mono", "fontSize": 13, "color": "#22ee22"},
          "encoding": {
            "x": {"datum": 74.9, "type": "quantitative", "scale": {"domain": [-0.847, 109.32], "nice": false, "zero": false}},
            "y": {"datum": -10.4, "type": "quantitative", "scale": {"domain": [-32.08, 40], "nice": false, "zero": false}}
          }
        },
        {
          "data": {"values": [{}]},
          "mark": {"type": "rect", "fill": "#000000", "stroke": "#8a1010", "strokeWidth": 1},
          "encoding": {
            "x": {"datum": 102.9, "type": "quantitative", "scale": {"domain": [-0.847, 109.32], "nice": false, "zero": false}},
            "x2": {"datum": 109.2},
            "y": {"datum": 39.6, "type": "quantitative", "scale": {"domain": [-32.08, 40], "nice": false, "zero": false}},
            "y2": {"datum": 35.4}
          }
        },
        {
          "data": {"values": [{}]},
          "mark": {"type": "text", "text": "指标说明", "align": "center", "baseline": "middle", "font": "Noto Sans CJK SC", "fontSize": 8.5, "color": "#bdbdbd"},
          "encoding": {
            "x": {"datum": 105.9, "type": "quantitative", "scale": {"domain": [-0.847, 109.32], "nice": false, "zero": false}},
            "y": {"datum": 37.5, "type": "quantitative", "scale": {"domain": [-32.08, 40], "nice": false, "zero": false}}
          }
        }
      ]
    }
  ]
}
